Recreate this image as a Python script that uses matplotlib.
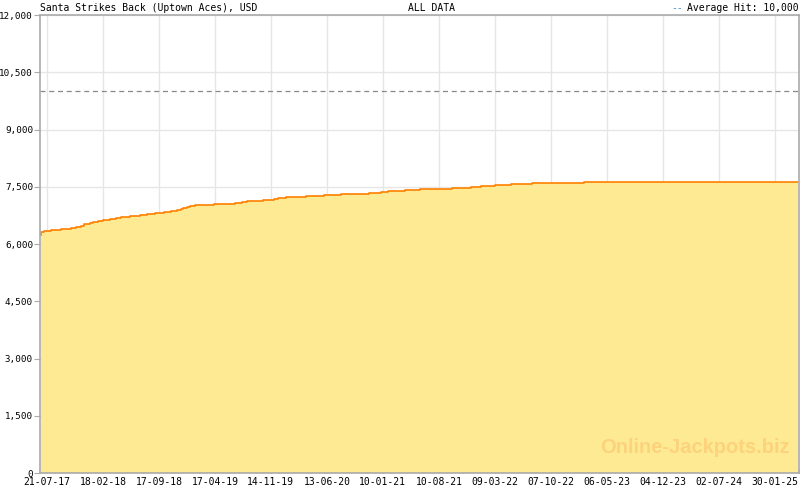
import matplotlib
matplotlib.use('Agg')
import matplotlib.pyplot as plt
import matplotlib.dates as mdates
from matplotlib.ticker import FuncFormatter, FixedLocator
import numpy as np
import datetime as dt

title = 'Santa Strikes Back (Uptown Aces), USD'
subtitle = 'ALL DATA'
avg_hit = 10000

dates = ['2017-06-28', '2017-06-29', '2017-07-10', '2017-08-05', '2017-09-12', '2017-10-19',
         '2017-11-07', '2017-11-26', '2017-12-08', '2017-12-30', '2018-01-10', '2018-01-29',
         '2018-02-17', '2018-03-16', '2018-04-07', '2018-04-26', '2018-05-30', '2018-07-07',
         '2018-08-02', '2018-09-02', '2018-10-06', '2018-11-01', '2018-11-24', '2018-12-09',
         '2018-12-17', '2019-01-01', '2019-01-12', '2019-01-31', '2019-04-13', '2019-07-01',
         '2019-07-28', '2019-08-16', '2019-10-15', '2019-11-26', '2019-12-11', '2020-01-10',
         '2020-03-25', '2020-06-01', '2020-08-05', '2020-11-18', '2021-01-03', '2021-01-29',
         '2021-04-03', '2021-05-30', '2021-09-28', '2021-12-09', '2022-01-16', '2022-03-09',
         '2022-05-09', '2022-07-27', '2023-02-09', '2025-04-28']
values = [6240, 6306, 6340, 6359, 6385, 6411,
          6437, 6479, 6516, 6542, 6568, 6594,
          6621, 6647, 6673, 6699, 6725, 6760,
          6786, 6804, 6830, 6856, 6883, 6909,
          6935, 6961, 6987, 7022, 7048, 7074,
          7100, 7126, 7153, 7179, 7205, 7228,
          7249, 7276, 7302, 7328, 7354, 7380,
          7407, 7433, 7459, 7485, 7511, 7538,
          7564, 7590, 7616, 7616]

xtick_labels = ['21-07-17', '18-02-18', '17-09-18', '17-04-19', '14-11-19', '13-06-20', '10-01-21',
                '10-08-21', '09-03-22', '07-10-22', '06-05-23', '04-12-23', '02-07-24', '30-01-25']
yticks = [0, 1500, 3000, 4500, 6000, 7500, 9000, 10500, 12000]

x = mdates.date2num([dt.datetime.strptime(d, '%Y-%m-%d') for d in dates])
xt = mdates.date2num([dt.datetime.strptime(d, '%d-%m-%y') for d in xtick_labels])

plt.rcParams['font.family'] = ['DejaVu Sans Mono']
plt.rcParams['font.size'] = 7.0

fig = plt.figure(figsize=(8, 4.9), dpi=100)
ax = fig.add_axes([40 / 800, 17 / 490, 759 / 800, 458 / 490])

ax.fill_between(x, values, 0, step='post', color='#feea92', lw=0, zorder=2)
ax.step(x, values, where='post', color='#ff8000', lw=1.2, zorder=3)
ax.axhline(avg_hit, color='#888888', lw=0.9, ls=(0, (4, 3)), zorder=3)

ax.set_xlim(mdates.date2num(dt.datetime(2017, 6, 25)), mdates.date2num(dt.datetime(2025, 5, 1)))
ax.set_ylim(0, 12000)

ax.xaxis.set_major_locator(FixedLocator(xt))
ax.set_xticklabels(xtick_labels)
step = (xt[-1] - xt[0]) / 13 / 7
minor = np.arange(xt[0] - step, ax.get_xlim()[1], step)
ax.xaxis.set_minor_locator(FixedLocator(minor))
ax.set_yticks(yticks)
ax.yaxis.set_major_formatter(FuncFormatter(lambda v, p: f'{int(v):,}'))

ax.grid(True, color='#e6e6e6', lw=1, zorder=0)
ax.set_axisbelow(True)
for s in ax.spines.values():
    s.set_color('#aaaaaa')
    s.set_linewidth(1.2)
    s.set_zorder(4)

ax.tick_params(axis='x', which='major', direction='in', length=6, color='#aaaaaa', pad=3)
ax.tick_params(axis='x', which='minor', direction='in', length=3, color='#aaaaaa')
ax.tick_params(axis='y', which='major', direction='out', length=4, color='#aaaaaa', pad=1,
               labelsize=6.7)

fig.text(40 / 800, 1 - 8 / 490, title, ha='left', va='center')
fig.text(432 / 800, 1 - 8 / 490, subtitle, ha='center', va='center')
fig.text(799 / 800, 1 - 8 / 490, 'Average Hit: 10,000', ha='right', va='center')
fig.text(683 / 800, 1 - 8 / 490, '--', ha='right', va='center', color='#4a90c8')

ax.text(0.987, 0.035, 'Online-Jackpots.biz', transform=ax.transAxes, ha='right', va='bottom',
        fontsize=14.5, fontweight='bold', family='Liberation Sans', color='#fdd27d', zorder=5)

fig.savefig('out.png', dpi=100)
